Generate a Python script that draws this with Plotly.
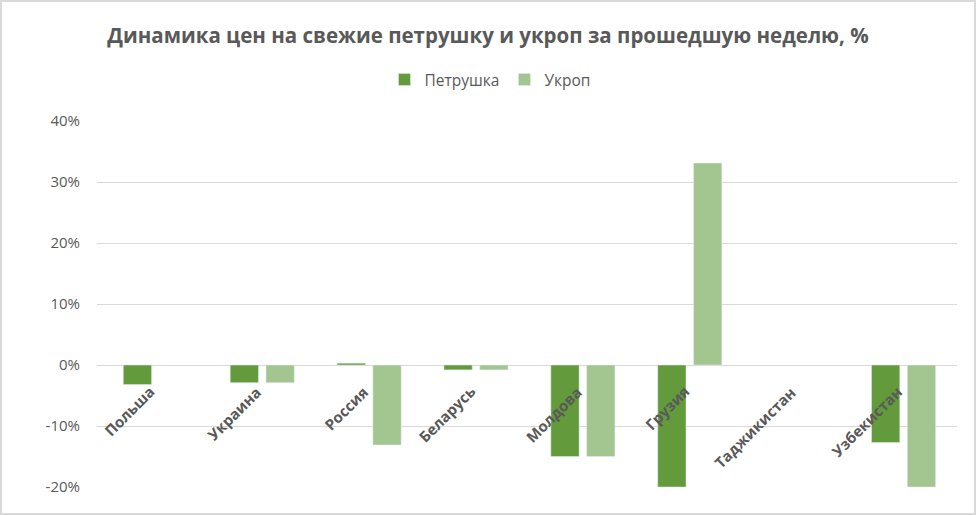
import plotly.graph_objects as go

# данные
countries = ["Польша", "Украина", "Россия", "Беларусь", "Молдова", "Грузия", "Таджикистан", "Узбекистан"]
petrushka = [-3.2, -2.9, 0.3, -0.8, -15.0, -20.0, None, -12.7]
ukrop = [None, -2.9, -13.1, -0.8, -15.0, 33.1, None, -20.0]
y_ticks = [-20, -10, 0, 10, 20, 30, 40]
y_labels = ["-20%", "-10%", "0%", "10%", "20%", "30%", "40%"]

W, H = 976, 515
ml, mr, mt, mb = 97, 19, 121, 28
gray = "#595959"

fig = go.Figure()
fig.add_trace(go.Bar(x=countries, y=petrushka, name="Петрушка", marker_color="#629A3C"))
fig.add_trace(go.Bar(x=countries, y=ukrop, name="Укроп", marker_color="#A3C58F"))

# подписи категорий у нулевой линии, под углом
for c in countries:
    fig.add_annotation(
        x=c, y=0, xref="x", yref="y", text="<b>" + c + "</b>", showarrow=False,
        textangle=-45, xanchor="right", yanchor="top", xshift=6, yshift=-14,
        font=dict(family="Open Sans", size=15, color=gray),
    )

# рамка вокруг диаграммы
pw, ph = W - ml - mr, H - mt - mb
fig.add_shape(
    type="rect", xref="paper", yref="paper",
    x0=-(ml - 1) / pw, x1=1 + (mr - 1) / pw, y0=-(mb - 1) / ph, y1=1 + (mt - 1) / ph,
    line=dict(color="#D9D9D9", width=2), layer="below",
)

fig.update_layout(
    width=W, height=H,
    margin=dict(l=ml, r=mr, t=mt, b=mb, autoexpand=False),
    paper_bgcolor="white", plot_bgcolor="white",
    title=dict(
        text="<b>Динамика цен на свежие петрушку и укроп за прошедшую неделю, %</b>",
        x=0.5, xref="container", xanchor="center", y=1 - 36 / H, yanchor="middle",
        font=dict(family="Open Sans", size=20.5, color=gray),
    ),
    legend=dict(
        orientation="h", x=(490 - ml) / pw, xanchor="center", y=1 + 41 / ph, yanchor="middle",
        font=dict(family="Open Sans", size=15.5, color=gray), itemwidth=30,
    ),
    bargap=0.33, bargroupgap=0.21,
    xaxis=dict(showticklabels=False, showgrid=False, zeroline=False, showline=False, ticks=""),
    yaxis=dict(
        range=[-20, 40], tickvals=y_ticks, ticktext=y_labels,
        showgrid=True, gridcolor="#D9D9D9", gridwidth=1,
        zeroline=True, zerolinecolor="#D9D9D9", zerolinewidth=1,
        tickfont=dict(family="Open Sans", size=15, color=gray), ticklabelstandoff=16,
    ),
    font=dict(family="Open Sans", color=gray),
)

fig.write_html("out.html", config={"displayModeBar": False},
               post_script="document.body.style.margin='0';")
